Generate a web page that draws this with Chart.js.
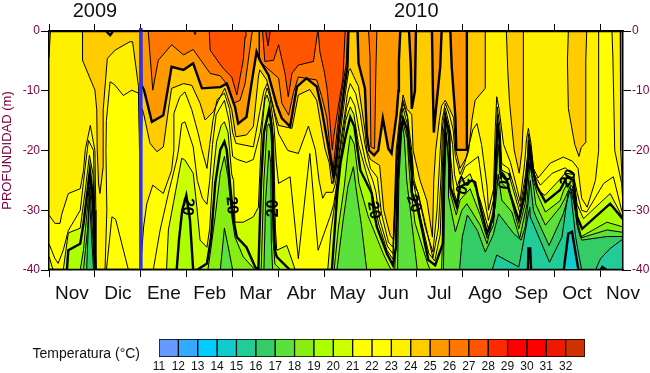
<!DOCTYPE html>
<html>
<head>
<meta charset="utf-8">
<script src="https://cdn.jsdelivr.net/npm/chart.js@4"></script>
<style>
  body { margin: 0; background: #fff; }
  canvas { position: absolute; left: 0; }
</style>
</head>
<body>
<canvas id="contours" width="650" height="330" style="top:0"></canvas>
<canvas id="colorbar" width="650" height="43" style="top:330px"></canvas>
<script>
// x = tenths of a month since 1 Nov 2009, second value = depth in m
var iso29 = [[0,0],[125,0]];
var iso28 = [[0,0],[47.2,0],[47.7,2.5],[48.2,0],[125,0]];
var iso27 = [[0,0],[31.5,0],[31.8,0.6],[32.1,0],[34.9,0],[35.1,3.2],[37.1,5.4],[38,6.3],[39.8,7.7],[40.9,10.7],[42.3,4.9],[42.7,1],[42.9,0],[46.5,0],[47,5.1],[48.9,4.9],[50,2.3],[51.4,7.1],[52.1,11],[52.9,7.1],[54.3,5.7],[57.6,5.1],[58.5,0],[58.6,0],[59,3.5],[60,7],[60.6,9.9],[61.2,15.4],[61.7,19.9],[61.9,18.2],[63,12.7],[64,8],[64.5,0],[125,0]];
var iso26 = [[0,0],[21.6,0],[22.6,9.9],[23.8,4.9],[26.7,2.3],[29.3,4],[31.4,3.1],[35.1,7.1],[37.3,7.5],[39.1,9.3],[40.2,12.1],[41.6,11.6],[42.7,8.8],[44.2,0.4],[44.4,0],[45.8,0],[45.8,4.3],[46.3,5.4],[50,7.9],[50.7,12.1],[52.2,14.1],[53.2,10.4],[54.3,7.7],[58.3,8.2],[59.4,11],[60.5,14.4],[61.2,19.7],[61.9,23],[62.3,20],[62.9,15.5],[63.4,12],[64.1,8.5],[64.8,5],[65,0],[69.6,0],[69.9,4.3],[70.1,19.4],[70.9,19.7],[71.2,6],[71.4,0],[125,0]];
var iso25 = [[0,0],[12.4,0],[13.3,0.7],[14,0],[20,0],[20.1,9],[20.7,9.9],[22.4,15.2],[24.9,14.1],[26.7,6],[29.3,6.5],[31.4,5.4],[33.3,9.6],[37.3,9.4],[38.7,8.8],[40.5,12.7],[41.2,15.5],[43,14.4],[44.1,8.8],[45.2,3.5],[45.9,4.9],[47.8,7.4],[49.6,12.4],[50.7,14.6],[52.5,16],[54,9.3],[56.1,7.9],[58.3,9.3],[59.4,13.2],[60.9,19.7],[62,24.6],[62.6,21],[63.2,16],[63.8,12.5],[64.4,9],[65,6],[65.2,0],[67.2,0],[67.4,5.4],[68.8,9.6],[69.2,17.2],[69.7,20],[70.8,20.8],[71.7,20],[72.7,14.6],[73.9,19.7],[74.6,20.5],[75,18],[75.7,14],[76.1,10],[76.2,5],[76.5,0],[78.4,0],[78.8,6],[79,13],[79.7,10],[79.9,0],[83.4,0],[83.6,10],[83.8,17],[84.1,14.4],[85.2,6],[85.5,0],[87.4,0],[87.7,6],[88.5,14.4],[88.7,19.9],[91,19.9],[91,0],[125,0]];
var iso24 = [[0,4.5],[0.3,0],[7.3,0],[7.3,4.9],[10,9.9],[10.4,13.2],[10.5,19.9],[10.8,25.6],[11.1,27.2],[11.8,22.7],[11.8,13.2],[12.7,4.6],[14.4,3.2],[17.6,1.8],[18.2,1.8],[19.5,9.3],[19.7,19.9],[20.1,19.9],[20.3,13],[20.6,13.8],[22,18.8],[23.5,20.2],[24.9,19.4],[26,13.2],[26.7,9.6],[29.3,8.8],[31.1,9.1],[32.9,12.1],[34,14.9],[35.8,13.5],[37.3,11],[38.3,9.6],[39.8,13.2],[40.7,17.7],[43,17.4],[44.5,16],[45.6,7.7],[45.9,6.5],[47.4,8.2],[49.2,13.8],[50,15.8],[52.9,16.3],[54.3,10.7],[56.8,9.8],[58.3,11.6],[59.4,16.6],[60.1,19.7],[61,22],[61.6,25.6],[62.4,24],[63,20],[63.6,16],[64.2,12.5],[64.8,9],[65.3,6.6],[65.6,6.3],[66.3,7.5],[67.4,9.3],[68.8,16.6],[69.2,20],[70,21.5],[71,22],[72,22.5],[72.9,30],[74.3,34.2],[75,34.9],[75.3,30],[75.8,20],[76.6,14],[77.1,10.7],[77.9,13],[79,14],[79.3,20],[80.8,25],[82.3,28.4],[83.5,34.5],[83.8,25],[84.2,20],[85,15],[85.5,12.5],[86.3,11.6],[87.2,13],[88.1,14.5],[88.6,20],[89.5,23],[91,21],[91.4,20],[92.1,14.9],[92.8,11.6],[95,9.6],[95,0],[99.6,0],[99.9,6.5],[100.3,12],[101.3,19.9],[102.4,23.8],[103,20],[103.3,15],[103.3,0],[113.1,0],[112.9,5],[113.1,13],[114.5,19],[115.4,21],[115.9,19.5],[116.8,18.7],[116.9,5],[117.1,0],[124.4,0],[124.5,20],[125,28]];
var iso23 = [[0,30.8],[1.3,32.2],[2.4,32.2],[2.8,30.6],[4.2,27.2],[6.8,26.4],[7.5,23.4],[7.9,19.9],[9,15.8],[10,20],[10.2,30],[10.2,40],[12.2,40],[12.6,30],[12.4,20],[12.5,15],[13.3,8.5],[14.3,9],[16.2,10.8],[18,9.9],[19.5,10.4],[19.8,20],[19.9,40],[20.6,32.8],[21.3,28.9],[22.6,25.8],[24.9,27.2],[26.7,23.3],[27.2,19.9],[27.2,13.8],[28.5,11],[29.6,10.2],[31.1,13.2],[32.5,17.2],[33.3,19.9],[34.4,23],[35,19],[35.7,15],[36.6,11.5],[38.2,10.4],[39.3,13],[40,17],[40.7,18.8],[44.5,19.4],[45.9,13.5],[46.8,10],[47.5,8.8],[47.8,9.3],[48.9,13.2],[50,17.2],[52,20],[54.3,20.5],[56.5,15.9],[58,19.9],[58.8,25],[59.6,28],[60.3,27],[61.8,27],[62.4,25.5],[63,21.5],[63.8,17],[64.4,14],[65,10.5],[65.6,8.8],[66.8,10.5],[67.8,14],[68.8,19],[70,23],[71.5,24.5],[72.4,30.5],[73.9,35.3],[74.9,36.2],[75.2,30],[75.6,20],[76.5,13.5],[77.1,11.6],[78,14],[79,20],[79.5,25],[80.3,27],[82,33],[83.6,37],[84.5,30],[85.2,20],[85.6,15],[86.3,12.1],[87.2,14],[88,16.5],[88.5,21],[89.5,24],[90.6,22],[91.5,19],[92.3,16.5],[93.2,15.5],[94.2,19],[95.4,26],[95.7,30],[96.8,26.5],[97.2,16],[97.5,11],[98,13],[99,19],[100.5,22],[102.6,28.5],[103.6,22],[104,18],[104.4,16.3],[105,19],[105.5,23],[106.5,24.6],[109.2,22.1],[112,21.1],[114,21.8],[115.2,23],[116,28],[117.2,29.5],[119,25],[119.7,20],[119.7,0],[122.6,0],[122.8,4.5],[123.2,20],[124.7,25.5],[125,29]];
var iso22 = [[0,35.6],[1.3,38.1],[2,38.9],[3.1,36.7],[4.2,33.4],[6.8,30],[7.3,26.7],[7.8,23.3],[8.6,18.3],[9.7,20],[10.2,40],[12.5,40],[13.7,31.1],[14.5,31.5],[17.3,40],[22.7,40],[24.2,33.3],[26,27.2],[27.8,21.6],[28.2,19.9],[28.9,15.5],[29.6,15.2],[31.4,19.4],[32.3,25],[33.4,28],[34.4,29],[35,25],[35.6,19],[36.4,14],[38.2,11.6],[39.2,15],[40,21],[41,21.5],[43,22],[44.5,21.5],[46,17],[47,11],[47.5,9.5],[48.1,11],[49,16],[49.5,22],[50,25.5],[52.5,24.4],[54.3,38.1],[56.8,20.5],[58.6,36.7],[61.2,31.1],[62,29],[62.7,25.5],[63.4,20],[64.2,16],[64.8,13],[65.6,11],[66.6,12.5],[67.6,17],[69,22],[70.5,25],[71.2,27],[72,31.5],[73.7,36],[74.9,37.3],[75.3,30],[75.7,21],[76.6,14],[77.1,12.1],[78.1,14.5],[79,25],[80.4,27.1],[81.9,32.1],[83.6,38],[84.8,33],[85.4,24],[85.7,16],[86.3,12.9],[87.1,15.5],[87.9,19],[88.3,24],[88.9,26],[90.6,22.7],[93.5,21],[94.6,27.2],[95.7,31.7],[96.8,28.3],[97.3,22.8],[97.6,12.7],[98.2,16],[98.6,22.2],[100.1,23],[102.6,29.5],[103.7,24.4],[104.2,21],[104.4,17.2],[105,20],[105.7,24],[107,25.8],[109.6,23.8],[112.4,22.9],[114.2,24.1],[115,27],[116,30],[117.1,30.3],[120.8,25.5],[122.9,24.4],[124.7,30],[125,30.6]];
var iso21 = [[0,37.7],[0.9,40],[3.1,40],[4.2,33.8],[6.8,33],[7.9,26.6],[8.8,20.8],[9.6,24],[10.2,40],[25.6,40],[26,33.3],[28.9,21.3],[29.6,21.6],[31.4,23.8],[32.2,29.5],[32.9,35],[34.4,36.2],[35,33],[35.6,25],[36.5,18.5],[37.5,15.8],[38.2,15.2],[39,17],[39.8,24],[40.2,25],[40.5,32],[42.3,32],[44.5,31.1],[45.6,29.5],[45.9,24],[46.3,17],[47,11.5],[47.5,10.7],[48,12],[48.9,18],[49.1,25],[49.3,33],[49.6,36.7],[51.8,35.9],[53.2,39],[53.6,40],[60.7,40],[61.4,33.5],[62.3,28.5],[63,24],[63.9,19],[64.6,15],[65.6,12.7],[66.4,14],[67.4,19],[69.2,24],[70.2,26.5],[71.8,32.3],[73.6,36.7],[74.9,38.2],[75.4,30],[75.8,22],[76.6,15],[77.1,12.9],[78,15.5],[78.5,22],[79.8,27],[81,31.5],[82.7,37.2],[84,38.5],[85.2,34],[85.6,25],[85.9,17],[86.3,13.7],[87,18],[87.7,23],[88.2,27],[88.8,28.5],[89.5,25.3],[91.7,23.9],[93.9,28.3],[95.7,33.1],[96.8,30],[97.3,24.1],[97.7,14],[98.2,20],[98.6,23.3],[100.1,23.9],[102.6,30.6],[103.7,25.5],[104.2,21.6],[104.5,18.3],[105,21],[106,25.5],[107,27],[108,27.5],[110.7,25.3],[112.4,23.8],[114.2,24],[115,29],[116.4,31.4],[122.2,27.2],[124.8,31],[125,31.2]];
var iso20 = [[0,40],[3.9,40],[4.2,36.7],[6.8,35.6],[7.5,32.3],[8.3,27.2],[8.9,23.3],[9.6,28],[10.1,40],[27.8,40],[28.3,35],[29,30],[29.9,27.5],[30.7,31.6],[31.4,40],[32.2,40],[34.4,38.9],[35.3,34.5],[36.2,25.5],[37.3,19.9],[38.2,18.5],[38.7,19.9],[39.4,25.5],[40.2,31.7],[40.9,34.5],[43,36.2],[44.9,39.5],[45.6,40],[46.2,25],[46.8,17],[47.9,13.2],[48.4,15.5],[48.7,20],[48.9,31],[49.2,36.7],[49.6,37.8],[52.5,40],[61.6,40],[62.8,27],[63.5,22],[64.5,18],[65.6,14.4],[66.5,16],[67.8,23.3],[70.3,27.2],[70.7,30],[71.4,32.8],[73.6,37.3],[74.9,39.2],[75.6,36],[75.9,25],[76.5,17],[77.1,14.6],[78,16.5],[79,22],[79,27],[80.2,29.4],[82.6,38.3],[84.1,39.2],[85.8,35.5],[85.9,25],[86.4,14.6],[87.2,17],[87.4,26.1],[88.8,29.4],[89.5,26.1],[92.1,25],[92.8,25.3],[93.9,29.4],[95.4,33.9],[96.8,31.1],[97.4,20],[97.7,15.5],[98.1,18],[98.3,23.9],[99.7,25],[100.4,27.2],[102.3,31.7],[103.7,27.2],[104.2,23.3],[104.6,19],[105.1,22.7],[106.3,26.1],[108.1,28.6],[111.3,26.6],[112.8,24.4],[114.2,25],[115,31.1],[116.1,33.1],[122.2,28.9],[125,31.5]];
var iso19 = [[0,40],[6.8,40],[7.5,36.7],[8.4,29.4],[8.9,24.4],[9.6,31],[10,40],[34.6,40],[35.1,37.3],[36.2,31],[37.3,23.8],[38.2,21],[39,24.5],[39.8,31],[40.5,34.5],[42.3,37.8],[44.9,40],[46.2,40],[46.8,25],[47.5,16],[47.9,15.5],[48.4,17],[48.6,25],[48.8,35],[49.2,39],[50.5,40],[62.1,40],[63,33],[64.3,26],[65,21],[65.6,17.5],[66.5,19],[67.5,25.5],[69.5,31],[72.8,37.3],[74.5,40],[75.3,40],[75.9,25],[77,15],[78,18],[78.6,25],[79.7,32.1],[82.4,38.8],[83,40],[85.5,40],[86,25],[86.4,17],[86.8,20],[87.4,27.2],[88.7,30.8],[89.5,28.3],[91.7,26.4],[93.9,30.8],[95.4,34.7],[96.8,32.5],[97.4,25],[97.8,19],[98.2,22],[98.6,25.5],[100.1,26.6],[102.3,33.1],[103.7,28.9],[104.6,20.5],[105.1,24],[106.3,27.2],[108.1,30.3],[111.3,28.4],[112.1,26.6],[112.9,25.5],[114,26],[115,32.5],[115.7,34.5],[121.5,32],[125,32.8]];
var iso18 = [[0,40],[7.5,40],[8.4,33.2],[8.9,26.1],[9.5,34],[9.9,40],[37.3,40],[38.2,33],[39,36],[40,40],[46.8,40],[47.2,28],[47.9,20],[48.3,22],[48.4,35],[48.7,40],[62.7,40],[64,32],[65.1,26],[66.3,22.7],[66.8,26],[68,32.3],[69.2,40],[75.9,40],[76.2,25],[76.9,15.4],[77.4,18],[77.9,25],[79,32.1],[80.2,40],[85.9,40],[86.2,25],[86.5,17],[87,21],[87,27.8],[88.5,33.6],[89.9,30],[91,28.9],[93.9,32.5],[95.4,35.6],[97.2,29.4],[97.8,24],[98.6,28.3],[100.8,30.3],[102.5,34.7],[104.1,28.9],[104.5,24.4],[104.7,22],[105.5,26],[106,29],[108.1,32.5],[111.3,29.5],[112.5,27.8],[113.5,26],[114.5,29.5],[115.3,32.5],[116,34.6],[121.5,33.3],[125,33.7]];
var iso17 = [[0,40],[8.2,40],[8.8,28],[9.4,36],[9.7,40],[89.4,40],[90,34.5],[91.1,30.8],[93.3,33.4],[95,37],[96.7,34.2],[97.9,30.6],[101.2,33.9],[102.8,35],[103.7,32.8],[104.4,28.3],[104.8,25],[105.5,30],[106,31],[108.9,35.9],[112,30.6],[113.5,26.6],[114,26.5],[114.7,30.6],[115.3,33.3],[116,35],[121.5,34.4],[125,34.4]];
var iso16 = [[0,40],[96.5,40],[97.5,37.5],[102.3,39.5],[103,36.7],[104.4,30.6],[104.7,29.5],[104.8,31.1],[109,38.7],[111.7,34.5],[113.1,26.8],[113.6,27],[114.7,34.5],[115.2,36.7],[116,40],[119,40],[120.1,38.1],[122.2,36.4],[125,34.8]];
var iso15 = [[0,40],[104.3,40],[104.4,36.4],[104.8,36.4],[105,40],[112.1,40],[113.1,33.9],[113.9,33.6],[115.3,40],[120.1,40],[120.5,39.5],[121.5,40],[125,40]];

var isoLevels = [15, 16, 17, 18, 19, 20, 21, 22, 23, 24, 25, 26, 27, 28, 29];
var isoLines = [iso15, iso16, iso17, iso18, iso19, iso20, iso21, iso22, iso23, iso24, iso25, iso26, iso27, iso28, iso29];

var yearChange = [[20,-0.5],[20,40]];
var monthNames = ["Nov", "Dic", "Ene", "Feb", "Mar", "Abr", "May", "Jun", "Jul", "Ago", "Sep", "Oct", "Nov"];

var labelX = [30.2, 39.8, 48.9, 70.7, 79.4, 89.9, 99, 113.1];
var labelDepth = [29.4, 29.2, 29.7, 30, 28.9, 25.8, 25, 24.7];
var labelTurn = [95, 85, -90, 80, 70, 110, 100, -60];

var legendLevels = [11, 12, 13, 14, 15, 16, 17, 18, 19, 20, 21, 22, 23, 24, 25, 26, 27, 28, 29, 30, 31, 32];
var legendColors = ["#6699ff", "#33aaff", "#00ccff", "#11cccc", "#22cc99", "#33cc66", "#5ce03c", "#88ee11", "#aaff00", "#ccff00", "#ffff00", "#ffff00", "#fff000", "#ffcc00", "#ff9900", "#ff7700", "#ff5500", "#ff2a00", "#ff0000", "#ff0000", "#ee1a00", "#cc3300"];

var sansFont = "'Liberation Sans', Arial, sans-serif";
var axisRed = "#7a0040";

function bandColor(level) {
  return legendColors[legendLevels.indexOf(level - 1)];
}

var datasets = isoLevels.map(function (level, i) {
  return {
    data: isoLines[i].map(function (p) { return { x: p[0], y: -p[1] }; }),
    backgroundColor: bandColor(level),
    borderColor: "#000",
    borderWidth: level % 5 === 0 ? 2.4 : 1,
    fill: "start",
    pointRadius: 0,
    tension: 0,
    clip: 0,
    order: level // warm bands painted first
  };
});

datasets.push({
  data: yearChange.map(function (p) { return { x: p[0], y: -p[1] }; }),
  borderColor: "#2e2eff",
  borderWidth: 3.5,
  fill: false,
  pointRadius: 0,
  clip: false,
  order: 0
});

// the "20" written on the thick contours
var contourText = {
  id: "contourText",
  afterDatasetsDraw: function (chart) {
    var ctx = chart.ctx;
    ctx.save();
    ctx.fillStyle = "#000";
    ctx.font = "bold 16px " + sansFont;
    ctx.textAlign = "center";
    ctx.textBaseline = "middle";
    labelX.forEach(function (x, i) {
      ctx.save();
      ctx.translate(chart.scales.x.getPixelForValue(x), chart.scales.y.getPixelForValue(-labelDepth[i]));
      ctx.rotate(labelTurn[i] * Math.PI / 180);
      ctx.fillText("20", 0, 0);
      ctx.restore();
    });
    ctx.restore();
  }
};

function monthTicks(scale, step) {
  var ticks = [];
  for (var v = 0; v <= 125; v += step) ticks.push({ value: v });
  scale.ticks = ticks;
}

function tickOnMonths(ctx) {
  return ctx.tick && ctx.tick.value % 10 === 0 ? "#000" : "rgba(0,0,0,0)";
}

new Chart(document.getElementById("contours"), {
  type: "line",
  data: { datasets: datasets },
  plugins: [contourText],
  options: {
    responsive: false,
    animation: false,
    devicePixelRatio: 1,
    plugins: {
      legend: { display: false },
      tooltip: { enabled: false },
      filler: { drawTime: "beforeDatasetsDraw", propagate: false }
    },
    scales: {
      x: {
        type: "linear", position: "bottom", min: 0, max: 125,
        afterBuildTicks: function (s) { monthTicks(s, 5); },
        afterFit: function (s) { s.height = 60; },
        border: { display: true, color: "#000", width: 1.5, z: 2 },
        grid: { drawOnChartArea: false, tickLength: 7, tickColor: tickOnMonths },
        ticks: {
          autoSkip: false, maxRotation: 0, padding: 5, color: "#111",
          font: { family: sansFont, size: 19 },
          callback: function (v) { return v % 10 === 5 ? monthNames[(v - 5) / 10] : ""; }
        }
      },
      x2: {
        type: "linear", position: "top", min: 0, max: 125,
        afterBuildTicks: function (s) { monthTicks(s, 10); },
        afterFit: function (s) { s.height = 31; },
        border: { display: true, color: "#000", width: 1.5, z: 2 },
        grid: { drawOnChartArea: false, tickLength: 7, tickColor: "#000" },
        ticks: {
          autoSkip: false, maxRotation: 0, padding: 1, color: "#111",
          font: { family: sansFont, size: 20 },
          callback: function (v) { return v === 10 ? "2009" : v === 80 ? "2010" : ""; }
        }
      },
      y: {
        position: "left", min: -40, max: 0,
        afterFit: function (s) { s.width = 49; },
        border: { display: true, color: "#000", width: 1.5, z: 2 },
        grid: { drawOnChartArea: false, tickLength: 8, tickColor: "#000" },
        title: { display: true, text: "PROFUNDIDAD (m)", color: axisRed, font: { family: sansFont, size: 13 }, padding: 0 },
        ticks: { stepSize: 10, padding: 1, color: axisRed, font: { family: sansFont, size: 12 } }
      },
      y2: {
        position: "right", min: -40, max: 0,
        afterFit: function (s) { s.width = 27; },
        border: { display: true, color: "#000", width: 1.5, z: 2 },
        grid: { drawOnChartArea: false, tickLength: 8, tickColor: "#000" },
        ticks: { stepSize: 10, padding: 1, color: axisRed, font: { family: sansFont, size: 12 } }
      }
    }
  }
});

// colour key: one floating bar per temperature step
new Chart(document.getElementById("colorbar"), {
  type: "bar",
  data: {
    labels: ["Temperatura (°C)"],
    datasets: legendLevels.map(function (t, i) {
      return {
        data: [[t, t + 1]],
        backgroundColor: legendColors[i],
        borderColor: "#000",
        borderWidth: 1,
        borderSkipped: false,
        barPercentage: 1,
        categoryPercentage: 1,
        grouped: false
      };
    })
  },
  options: {
    indexAxis: "y",
    responsive: false,
    animation: false,
    devicePixelRatio: 1,
    layout: { padding: { top: 9, right: 65 } },
    plugins: { legend: { display: false }, tooltip: { enabled: false } },
    scales: {
      x: {
        type: "linear", min: 11, max: 33, offset: false,
        afterFit: function (s) { s.height = 16; s.paddingLeft = 0; s.paddingRight = 0; },
        border: { display: false },
        grid: { display: false, drawTicks: false },
        ticks: {
          stepSize: 1, autoSkip: false, maxRotation: 0, padding: 2, color: "#111",
          font: { family: sansFont, size: 12 },
          callback: function (v) { return v < 33 ? v : ""; }
        }
      },
      y: {
        afterFit: function (s) { s.width = 159; s.paddingTop = 0; s.paddingBottom = 0; },
        border: { display: false },
        grid: { drawOnChartArea: false, tickLength: 19, tickColor: "rgba(0,0,0,0)" },
        ticks: {
          padding: 0, labelOffset: 6, color: "#111",
          font: { family: sansFont, size: 14 }
        }
      }
    }
  }
});
</script>
</body>
</html>
